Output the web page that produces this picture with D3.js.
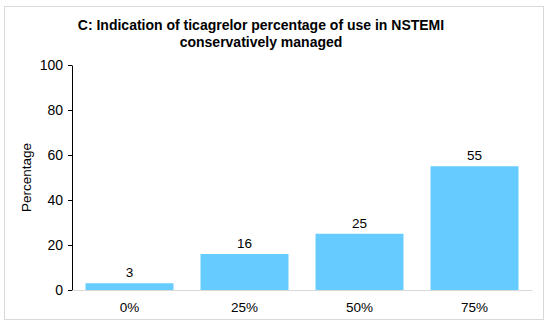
<!DOCTYPE html>
<html>
<head>
<meta charset="utf-8">
<script src="https://cdn.jsdelivr.net/npm/d3@7"></script>
<style>
  body { margin: 0; background: #fff; }
  svg { display: block; font-family: "Liberation Sans", Arial, sans-serif; }
</style>
</head>
<body>
<div id="chart"></div>
<script>
const categories = ['0%', '25%', '50%', '75%']
const values = [3, 16, 25, 55]
const yTicks = [0, 20, 40, 60, 80, 100]

const width = 550
const height = 326
const margin = { left: 72, right: 18, top: 65, bottom: 36 }

const svg = d3.select('#chart').append('svg')
  .attr('width', width)
  .attr('height', height)

// outer frame
svg.append('rect')
  .attr('x', 4.5).attr('y', 6.5)
  .attr('width', 539).attr('height', 313)
  .attr('fill', 'none')
  .attr('stroke', '#d9d9d9')

const x = d3.scaleBand()
  .domain(categories)
  .range([margin.left, width - margin.right])
  .paddingInner(0.235)
  .paddingOuter(0.1175)

const y = d3.scaleLinear()
  .domain([0, 100])
  .range([height - margin.bottom, margin.top])

// title
svg.append('text')
  .attr('x', 261).attr('y', 30)
  .attr('text-anchor', 'middle')
  .attr('font-size', 14).attr('font-weight', 'bold')
  .selectAll('tspan')
  .data(['C: Indication of ticagrelor percentage of use in NSTEMI', 'conservatively managed'])
  .join('tspan')
  .attr('x', 261)
  .attr('dy', (d, i) => i ? 17 : 0)
  .text(d => d)

// bars
svg.selectAll('.bar')
  .data(values)
  .join('rect')
  .attr('class', 'bar')
  .attr('x', (d, i) => x(categories[i]))
  .attr('y', d => y(d))
  .attr('width', x.bandwidth())
  .attr('height', d => y(0) - y(d))
  .attr('fill', '#66ccff')

// value labels
svg.selectAll('.val')
  .data(values)
  .join('text')
  .attr('class', 'val')
  .attr('x', (d, i) => x(categories[i]) + x.bandwidth() / 2)
  .attr('y', d => y(d) - 6)
  .attr('text-anchor', 'middle')
  .attr('font-size', 13.5)
  .attr('fill', '#000')
  .text(d => d)

// y axis
const yAxis = svg.append('g')
  .attr('transform', `translate(${margin.left},0)`)
  .call(d3.axisLeft(y).tickValues(yTicks).tickSize(4).tickSizeOuter(0).tickPadding(5))
yAxis.selectAll('path, line').attr('stroke', '#000')
yAxis.selectAll('text').attr('font-size', 14).attr('fill', '#000')
  .style('font-family', '"Liberation Sans", Arial, sans-serif')

// x axis
const xAxis = svg.append('g')
  .attr('transform', `translate(0,${y(0)})`)
  .call(d3.axisBottom(x).tickSize(0).tickPadding(12))
xAxis.select('.domain').attr('stroke', '#d9d9d9')
xAxis.selectAll('text').attr('font-size', 13.5).attr('fill', '#000')
  .style('font-family', '"Liberation Sans", Arial, sans-serif')

// y title
svg.append('text')
  .attr('transform', `translate(31,${(y(0) + y(100)) / 2}) rotate(-90)`)
  .attr('text-anchor', 'middle')
  .attr('font-size', 13.5)
  .text('Percentage')
</script>
</body>
</html>
